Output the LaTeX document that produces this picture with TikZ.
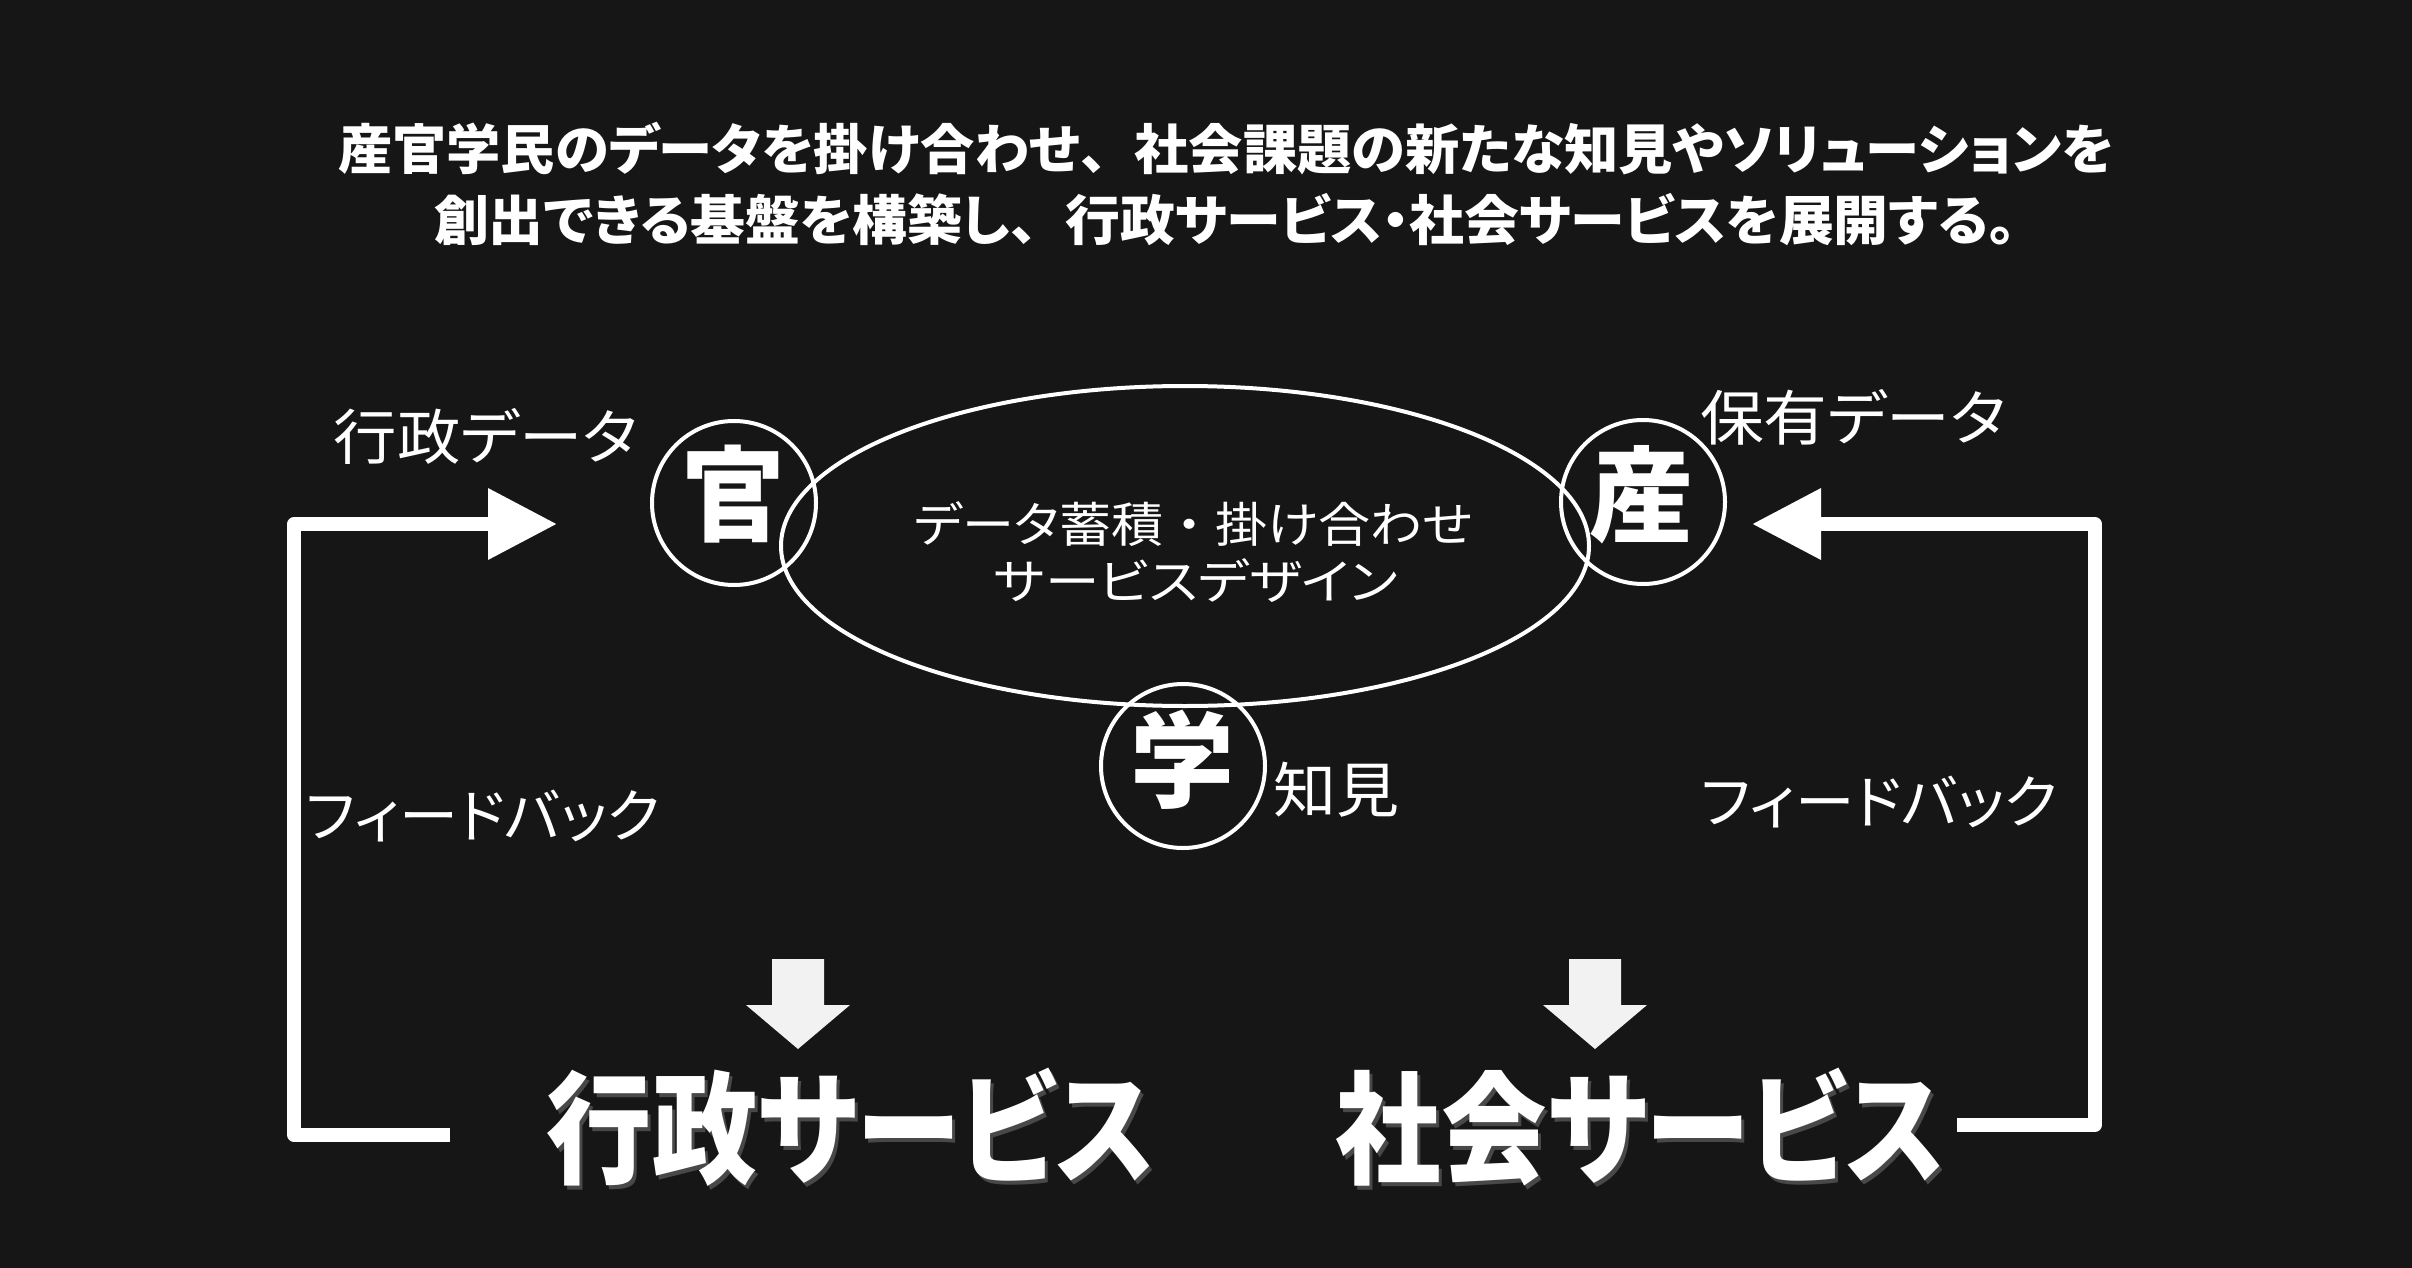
\documentclass[tikz,border=0pt]{standalone}
\usepackage{fontspec}
\usepackage{graphicx}
\usetikzlibrary{arrows.meta,shapes.geometric}
\newfontfamily\jp[RawFeature=+palt]{Noto Sans CJK JP}
\newfontfamily\jpfull{Noto Sans CJK JP}
\definecolor{bg}{HTML}{161616}
\definecolor{arrowfill}{HTML}{F2F2F2}
\definecolor{shadowgray}{HTML}{6A6A6A}
\newcommand\fitw[2]{\resizebox{#1pt}{\height}{#2}}
\begin{document}
\begin{tikzpicture}[x=1pt,y=-1pt,
  txt/.style={anchor=base, text=white, inner sep=0pt},
  ttl/.style={txt, font=\jp\bfseries\fontsize{54pt}{60pt}\selectfont},
  lbl/.style={txt, font=\jp\fontsize{60pt}{70pt}\selectfont},
  fb/.style={txt, font=\jp\fontsize{58pt}{66pt}\selectfont},
  inner/.style={txt, font=\jp\fontsize{48pt}{56pt}\selectfont},
  kanji/.style={txt, font=\jp\bfseries\fontsize{104pt}{110pt}\selectfont},
  big/.style={txt, font=\jp\bfseries\fontsize{122pt}{130pt}\selectfont},
  bigshadow/.style={big, text=shadowgray, opacity=0.6},
  ring/.style={draw=white, line width=4pt, circle, minimum size=164pt, inner sep=0pt},
  hubstyle/.style={draw=white, line width=4pt, ellipse, minimum width=808pt, minimum height=320pt, inner sep=0pt},
  loopline/.style={draw=white, line width=13.5pt, line join=round, -{Triangle[length=69pt,width=68pt]}},
  blockarrow/.style={fill=arrowfill},
]
\fill[bg] (0,0) rectangle (2412,1268);
\useasboundingbox (0,0) rectangle (2412,1268);

% title
\node[ttl] (title1) at (1226,169.5) {\fitw{1776}{産官学民のデータを掛け合わせ{\jpfull\bfseries 、}社会課題の新たな知見やソリューションを}};
\node[ttl] (title2) at (1225,240.5) {\fitw{1582}{創出できる基盤を構築し{\jpfull\bfseries 、}行政サービス・社会サービスを展開する。}};

% central ellipse and circles
\node[hubstyle] (hub) at (1185,546) {};
\node[ring] (guanring) at (734,503) {};
\node[ring] (chanring) at (1643,502) {};
\node[ring] (xuering) at (1183,766) {};
\node[kanji] (guan) at (733,533.5) {官};
\node[kanji] (chan) at (1641,534.5) {産};
\node[kanji] (xue) at (1182,799.5) {学};

\node[inner] (hubtext1) at (1193.5,542) {\fitw{559}{データ蓄積{\jpfull ・}掛け合わせ}};
\node[inner] (hubtext2) at (1196,599) {\fitw{404}{サービスデザイン}};

% labels
\node[lbl] (govdata) at (486,459) {\fitw{304}{行政データ}};
\node[lbl] (owndata) at (1853,440) {\fitw{306}{保有データ}};
\node[lbl] (insight) at (1336,812) {\fitw{126}{知見}};
\node[fb] (fbleft) at (483,837) {\fitw{354}{フィードバック}};
\node[fb] (fbright) at (1879.5,823) {\fitw{357}{フィードバック}};

% feedback loops
\coordinate (lfoot) at (450,1135);
\coordinate (lbend) at (294,524);
\coordinate (ltip) at (557,524);
\draw[loopline] (lfoot) -| (lbend) -- (ltip);
\coordinate (rfoot) at (1957,1125);
\coordinate (rbend) at (2095,524);
\coordinate (rtip) at (1752,524);
\draw[loopline] (rfoot) -| (rbend) -- (rtip);

% down arrows
\fill[blockarrow] (772,959) -- (824,959) -- (824,1005) -- (850,1005) -- (798,1049) -- (746,1005) -- (772,1005) -- cycle;
\fill[blockarrow] (1569,959) -- (1621,959) -- (1621,1005) -- (1647,1005) -- (1595,1049) -- (1543,1005) -- (1569,1005) -- cycle;

% big texts
\node[bigshadow] (govsvcshadow) at (854,1178) {\fitw{608}{行政サービス}};
\node[bigshadow] (socsvcshadow) at (1643.5,1178) {\fitw{609}{社会サービス}};
\node[big] (govsvc) at (851,1174) {\fitw{608}{行政サービス}};
\node[big] (socsvc) at (1640.5,1174) {\fitw{609}{社会サービス}};
\end{tikzpicture}
\end{document}
